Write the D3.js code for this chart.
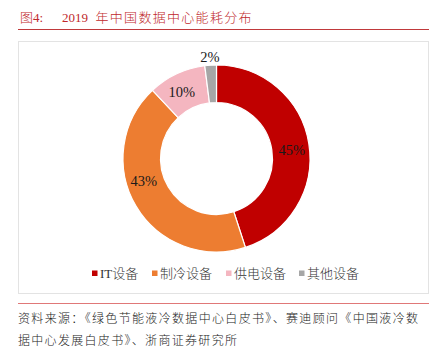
<!DOCTYPE html>
<html>
<head>
<meta charset="utf-8">
<script src="https://cdn.jsdelivr.net/npm/d3@7"></script>
<style>
  body { margin: 0; background: #fff; }
  svg { display: block; }
</style>
</head>
<body>
<svg id="chart" width="438" height="347"></svg>
<script>
// energy share of a data centre, 2019
const categories = ['IT设备', '制冷设备', '供电设备', '其他设备'];
const shares = [45, 43, 10, 2];
const colors = ['#c00000', '#ed7d31', '#f4b6c0', '#a6a6a6'];
// small angular shifts (degrees) for the value labels
const labelShift = [2, 14, -2, 0];

const titleNum = '图4:';
const titleText = '2019 年中国数据中心能耗分布';
const sourceLines = [
  '资料来源：《绿色节能液冷数据中心白皮书》、赛迪顾问《中国液冷数',
  '据中心发展白皮书》、浙商证券研究所'
];

const serif = '"Liberation Serif", "Times New Roman", serif';
const cjk = '"Noto Sans CJK SC", sans-serif';
const mixed = '"Liberation Serif", "Noto Sans CJK SC", serif';

const svg = d3.select('#chart');

// title
svg.append('text')
  .attr('x', 20)
  .attr('y', 21.5)
  .attr('fill', '#c0282b')
  .attr('font-family', mixed)
  .attr('font-weight', 300)
  .attr('font-size', 13)
  .text(titleNum);

const title = svg.append('text')
  .attr('x', 62)
  .attr('y', 21.5)
  .attr('fill', '#c0282b')
  .attr('font-size', 13);
title.append('tspan').attr('font-family', serif).text(titleText.slice(0, 4));
title.append('tspan').attr('x', 95.5).attr('font-family', cjk)
  .attr('font-weight', 300)
  .attr('textLength', 156)
  .attr('lengthAdjust', 'spacing')
  .text(titleText.slice(5));

svg.append('line')
  .attr('x1', 18).attr('x2', 429)
  .attr('y1', 29.5).attr('y2', 29.5)
  .attr('stroke', '#c0393b')
  .attr('stroke-width', 1);

// chart frame
svg.append('rect')
  .attr('x', 18.5).attr('y', 41.5)
  .attr('width', 410).attr('height', 252)
  .attr('fill', '#fff')
  .attr('stroke', '#e3e3e3')
  .attr('stroke-width', 1);

const cx = 216.5, cy = 158.5;
const outerR = 93.5, innerR = 56;

const pie = d3.pie().sort(null).value(d => d);
const arcs = pie(shares);

const arc = d3.arc().innerRadius(innerR).outerRadius(outerR);

const g = svg.append('g').attr('transform', `translate(${cx},${cy})`);

g.selectAll('path')
  .data(arcs)
  .join('path')
  .attr('d', arc)
  .attr('fill', (d, i) => colors[i])
  .attr('stroke', '#fff')
  .attr('stroke-width', 1.2);

// thin slices get their label outside the ring
function labelPos(d, i) {
  const a = (d.startAngle + d.endAngle) / 2 + labelShift[i] * Math.PI / 180;
  const r = d.data < 5 ? outerR + 9.5 : (innerR + outerR) / 2 + 1;
  return [Math.sin(a) * r, -Math.cos(a) * r];
}

g.selectAll('text.val')
  .data(arcs)
  .join('text')
  .attr('class', 'val')
  .attr('transform', (d, i) => {
    const p = labelPos(d, i);
    return `translate(${p[0]},${p[1] + 1})`;
  })
  .attr('text-anchor', 'middle')
  .attr('dy', '0.35em')
  .attr('font-family', serif)
  .attr('font-size', 14.5)
  .attr('fill', '#1a1a1a')
  .text(d => d.data + '%');

// legend
const legendX = [92, 152, 226, 299];
const items = svg.append('g').selectAll('g')
  .data(categories)
  .join('g')
  .attr('transform', (d, i) => `translate(${legendX[i]},273)`);

items.append('rect')
  .attr('x', 0).attr('y', -2.5)
  .attr('width', 5.5).attr('height', 5.5)
  .attr('fill', (d, i) => colors[i]);

items.append('text')
  .attr('x', 8)
  .attr('y', 5)
  .attr('font-family', mixed)
  .attr('font-weight', 300)
  .attr('font-size', 13)
  .attr('fill', '#333')
  .text(d => d);

// source note
svg.append('line')
  .attr('x1', 18).attr('x2', 429)
  .attr('y1', 303.5).attr('y2', 303.5)
  .attr('stroke', '#e07878')
  .attr('stroke-width', 1);

const sourceWidth = [400, 219];
svg.selectAll('text.src')
  .data(sourceLines)
  .join('text')
  .attr('class', 'src')
  .attr('x', 18)
  .attr('y', (d, i) => 323 + i * 21.5)
  .attr('font-family', cjk)
  .attr('font-weight', 300)
  .attr('font-size', 12)
  .attr('fill', '#222')
  .attr('textLength', (d, i) => sourceWidth[i])
  .attr('lengthAdjust', 'spacing')
  .text(d => d);
</script>
</body>
</html>
